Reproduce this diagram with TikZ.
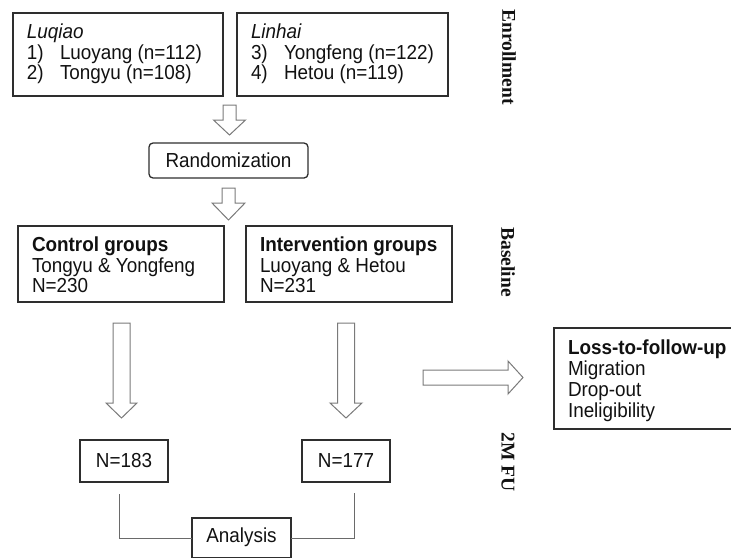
\documentclass[tikz,border=0pt]{standalone}
\usepackage{fontspec}
\setmainfont{Liberation Sans}[FakeStretch=0.93]
\newfontfamily\labfont{Liberation Serif}
\usetikzlibrary{calc}
\definecolor{boxc}{HTML}{2E2E2E}
\definecolor{arrc}{HTML}{7A7A7A}
\definecolor{linec}{HTML}{6A6A6A}
\definecolor{txtc}{HTML}{111111}
\begin{document}
\begin{tikzpicture}[x=1pt,y=-1pt,
  box/.style={draw=boxc, line width=1.3pt, inner sep=0pt, outer sep=0pt},
  rbox/.style={box, rounded corners=4pt},
  txt/.style={inner sep=0pt, outer sep=0pt, text=txtc, font=\fontsize{20.3}{21}\selectfont},
  lab/.style={inner sep=0pt, text=txtc, rotate=-90, font=\labfont\bfseries\fontsize{19.5}{20}\selectfont},
  arr/.style={draw=arrc, line width=1pt, fill=white},
  conn/.style={draw=linec, line width=1pt},
  pics/blockdown/.style n args={4}{code={
    \draw[arr] (-#1,0) -- (-#1,#3) -- (-#2,#3) -- (0,#4) -- (#2,#3) -- (#1,#3) -- (#1,0) -- cycle;}}
]
\useasboundingbox (0,0) rectangle (731,557);

% Enrollment
\node[box, minimum width=210, minimum height=83, anchor=north west] (luqiao) at (13,13) {};
\node[txt, anchor=base west] (lq0) at (27,38.5) {\textit{Luqiao}};
\node[txt, anchor=base west] (lq1) at (27,59.5) {1)};
\node[txt, anchor=base west] (lq1b) at (60,59.5) {Luoyang (n=112)};
\node[txt, anchor=base west] (lq2) at (27,79.5) {2)};
\node[txt, anchor=base west] (lq2b) at (60,79.5) {Tongyu (n=108)};

\node[box, minimum width=211, minimum height=83, anchor=north west] (linhai) at (237,13) {};
\node[txt, anchor=base west] (lh0) at (251,38.5) {\textit{Linhai}};
\node[txt, anchor=base west] (lh1) at (251,59.5) {3)};
\node[txt, anchor=base west] (lh1b) at (284,59.5) {Yongfeng (n=122)};
\node[txt, anchor=base west] (lh2) at (251,79.5) {4)};
\node[txt, anchor=base west] (lh2b) at (284,79.5) {Hetou (n=119)};

\node[lab] (enr) at (509,57) {Enrollment};

% Randomization
\pic at (229.5,105) {blockdown={6.5}{16}{15}{30}};
\node[rbox, minimum width=159, minimum height=35, anchor=north west] (rand) at (149,143) {};
\node[txt] (randt) at (rand.center) {Randomization};
\pic at (228.5,188) {blockdown={6.5}{16.5}{15}{32}};

% Baseline
\node[box, minimum width=206, minimum height=76, anchor=north west] (ctrl) at (18,226) {};
\node[txt, anchor=base west] (c0) at (32,251.5) {\bfseries Control groups};
\node[txt, anchor=base west] (c1) at (32,272) {Tongyu \& Yongfeng};
\node[txt, anchor=base west] (c2) at (32,292) {N=230};

\node[box, minimum width=206, minimum height=76, anchor=north west] (intv) at (246,226) {};
\node[txt, anchor=base west] (i0) at (260,251.5) {\bfseries Intervention groups};
\node[txt, anchor=base west] (i1) at (260,272) {Luoyang \& Hetou};
\node[txt, anchor=base west] (i2) at (260,292) {N=231};

\node[lab] (bas) at (508,262) {Baseline};

% Follow-up arrows
\pic at (121.5,323) {blockdown={8.5}{15.5}{80}{95}};
\pic at (346,323) {blockdown={8.5}{16}{80}{95}};
\draw[arr] (423,370) -- (508,370) -- (508,361) -- (523,377.5) -- (508,394) -- (508,385) -- (423,385) -- cycle;

% Loss to follow up
\node[box, minimum width=190, minimum height=101, anchor=north west] (loss) at (554,328) {};
\node[txt, anchor=base west] (l0) at (568,354) {\bfseries Loss-to-follow-up};
\node[txt, anchor=base west] (l1) at (568,375) {Migration};
\node[txt, anchor=base west] (l2) at (568,396) {Drop-out};
\node[txt, anchor=base west] (l3) at (568,417) {Ineligibility};

% 2M FU
\node[box, minimum width=88, minimum height=42, anchor=north west] (n183) at (80,440) {};
\node[txt] (n183t) at (n183.center) {N=183};
\node[box, minimum width=88, minimum height=42, anchor=north west] (n177) at (302,440) {};
\node[txt] (n177t) at (n177.center) {N=177};
\node[lab] (fu) at (508,462) {2M FU};

% Analysis
\node[box, minimum width=99, minimum height=40, anchor=north west] (ana) at (192,518) {};
\node[txt] (anat) at ($(ana.center)+(0,-1)$) {Analysis};
\draw[conn] ($(n183.south)+(-5,12)$) |- (ana.west);
\draw[conn] ($(n177.south)+(8,11)$) |- (ana.east);
\end{tikzpicture}
\end{document}
